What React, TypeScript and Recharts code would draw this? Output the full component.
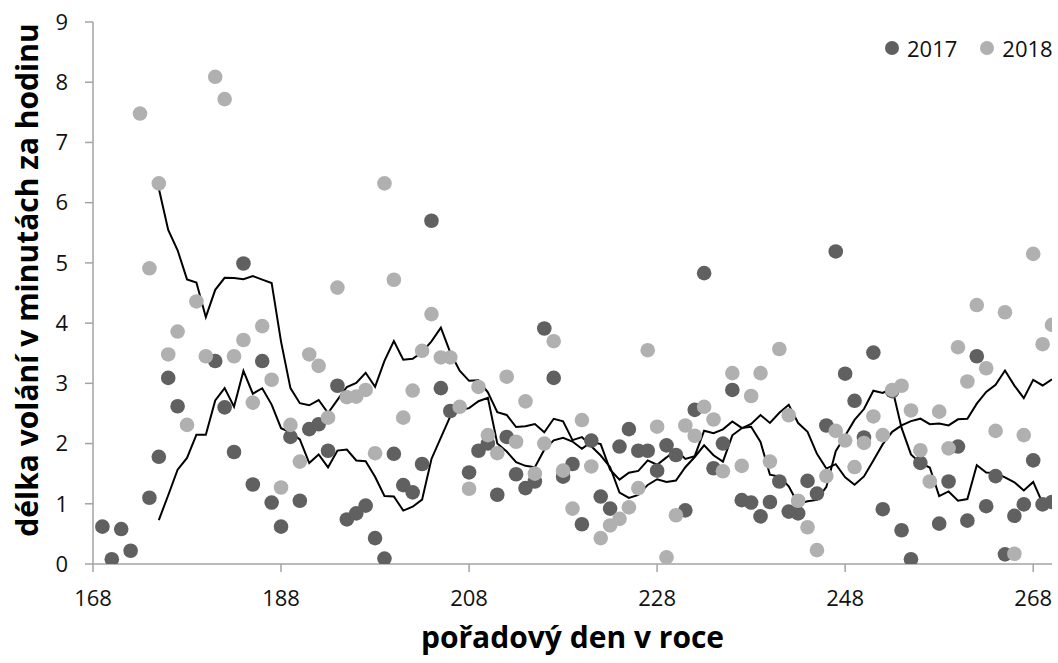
import React from 'react';
import { ComposedChart, Scatter, Line, XAxis, YAxis, Legend, Label } from 'recharts';

// First day of the data rows (day-of-year); one value per consecutive day, null = no value
const FIRST_DAY = 169;

// 2017 values (minutes of calls per hour), days 169..270
const values2017: (number | null)[] = [
  0.62, 0.08, 0.58, 0.22, null, 1.10, 1.78, 3.09, 2.62, null, // 169-178
  null, null, 3.37, 2.60, 1.86, 4.99, 1.32, 3.37, 1.02, 0.62, // 179-188
  2.11, 1.05, 2.24, 2.32, 1.88, 2.96, 0.74, 0.84, 0.97, 0.43, // 189-198
  0.09, 1.83, 1.31, 1.19, 1.66, 5.70, 2.92, 2.54, null, 1.52, // 199-208
  1.88, 2.00, 1.15, 2.11, 1.49, 1.26, 1.37, 3.91, 3.09, 1.45, // 209-218
  1.66, 0.66, 2.05, 1.12, 0.92, 1.95, 2.24, 1.88, 1.88, 1.55, // 219-228
  1.97, 1.81, 0.89, 2.56, 4.83, 1.59, 2.00, 2.89, 1.06, 1.02, // 229-238
  0.79, 1.03, 1.37, 0.87, 0.84, 1.38, 1.17, 2.30, 5.19, 3.16, // 239-248
  2.71, 2.10, 3.51, 0.91, 2.87, 0.56, 0.08, 1.68, null, 0.67, // 249-258
  1.37, 1.95, 0.72, 3.45, 0.96, 1.46, 0.16, 0.80, 0.99, 1.72, // 259-268
  0.99, 1.03, // 269-270
];

// 2018 values, days 169..270
const values2018: (number | null)[] = [
  null, null, null, null, 7.48, 4.91, 6.32, 3.48, 3.86, 2.31, // 169-178
  4.36, 3.45, 8.09, 7.72, 3.45, 3.72, 2.68, 3.95, 3.06, 1.27, // 179-188
  2.31, 1.70, 3.48, 3.29, 2.43, 4.59, 2.77, 2.78, 2.89, 1.84, // 189-198
  6.32, 4.72, 2.43, 2.88, 3.54, 4.15, 3.43, 3.43, 2.61, 1.25, // 199-208
  2.94, 2.14, 1.84, 3.11, 2.03, 2.70, 1.50, 2.00, 3.70, 1.55, // 209-218
  0.92, 2.39, 1.62, 0.43, 0.64, 0.75, 0.94, 1.26, 3.55, 2.28, // 219-228
  0.11, 0.81, 2.30, 2.13, 2.61, 2.40, 1.54, 3.17, 1.63, 2.79, // 229-238
  3.17, 1.70, 3.57, 2.47, 1.05, 0.61, 0.23, 1.46, 2.21, 2.05, // 239-248
  1.61, 2.01, 2.45, 2.14, 2.89, 2.96, 2.55, 1.89, 1.37, 2.53, // 249-258
  1.92, 3.60, 3.03, 4.30, 3.25, 2.21, 4.18, 0.17, 2.14, 5.15, // 259-268
  3.65, 3.97, // 269-270
];

const X_TICKS = [168, 188, 208, 228, 248, 268];
const Y_TICKS = [0, 1, 2, 3, 4, 5, 6, 7, 8, 9];
const SERIES_NAMES = ['2017', '2018'];
const X_TITLE = 'pořadový den v roce';
const Y_TITLE = 'délka volání v minutách za hodinu';
const TREND_PERIOD = 7; // moving-average trendline period (rows)

const COLOR_2017 = '#606060';
const COLOR_2018 = '#b0b0b0';
const AXIS_COLOR = '#a3a3a3';
const FONT = '"Open Sans", "DejaVu Sans", sans-serif';

type Pt = { day: number; v: number };

const toPoints = (vals: (number | null)[]): Pt[] =>
  vals
    .map((v, i) => (v == null ? null : { day: FIRST_DAY + i, v }))
    .filter((p): p is Pt => p !== null);

// Moving-average trendline (like the spreadsheet trendline): mean of the available values
// in the last TREND_PERIOD rows, starting at the TREND_PERIOD-th row.
const trendline = (vals: (number | null)[]): Pt[] => {
  const out: Pt[] = [];
  for (let i = TREND_PERIOD - 1; i < vals.length; i++) {
    const win = vals.slice(i - TREND_PERIOD + 1, i + 1).filter((x): x is number => x != null);
    if (win.length) out.push({ day: FIRST_DAY + i, v: win.reduce((a, b) => a + b, 0) / win.length });
  }
  return out;
};

const pts2017 = toPoints(values2017);
const pts2018 = toPoints(values2018);
const trend2017 = trendline(values2017);
const trend2018 = trendline(values2018);

const dot = (color: string) => (p: any) =>
  p.cx == null || p.cy == null ? <g /> : <circle cx={p.cx} cy={p.cy} r={7.3} fill={color} />;

const LegendContent = () => (
  <div
    style={{
      display: 'flex',
      alignItems: 'center',
      fontFamily: FONT,
      fontSize: 22,
      lineHeight: '30px',
      color: '#111',
      whiteSpace: 'nowrap',
    }}
  >
    <span style={{ width: 14, height: 14, borderRadius: 7, background: COLOR_2017, display: 'inline-block' }} />
    <span style={{ marginLeft: 8 }}>{SERIES_NAMES[0]}</span>
    <span
      style={{ width: 14, height: 14, borderRadius: 7, background: COLOR_2018, display: 'inline-block', marginLeft: 23 }}
    />
    <span style={{ marginLeft: 8 }}>{SERIES_NAMES[1]}</span>
  </div>
);

export default function App() {
  return (
    <div style={{ position: 'absolute', left: 0, top: 0, width: 1058, height: 663, background: '#fff' }}>
      <ComposedChart width={1058} height={663} margin={{ top: 22, right: 6, bottom: 0, left: 0 }}>
        <XAxis
          type="number"
          dataKey="day"
          domain={[168, 270]}
          ticks={X_TICKS}
          allowDataOverflow
          height={99}
          tickSize={8}
          tickMargin={18}
          axisLine={{ stroke: AXIS_COLOR, strokeWidth: 1.5 }}
          tickLine={{ stroke: AXIS_COLOR, strokeWidth: 1.5 }}
          tick={{ fill: '#111', fontSize: 22, fontFamily: FONT }}
        >
          <Label
            content={(props: any) => {
              const vb = props.viewBox || {};
              return (
                <text
                  x={vb.x + vb.width / 2}
                  y={vb.y + 84}
                  textAnchor="middle"
                  fontFamily={FONT}
                  fontWeight="bold"
                  fontSize={30}
                  fill="#000"
                >
                  {X_TITLE}
                </text>
              );
            }}
          />
        </XAxis>
        <YAxis
          type="number"
          dataKey="v"
          domain={[0, 9]}
          ticks={Y_TICKS}
          allowDataOverflow
          width={93}
          tickSize={8}
          tickMargin={17}
          axisLine={{ stroke: AXIS_COLOR, strokeWidth: 1.5 }}
          tickLine={{ stroke: AXIS_COLOR, strokeWidth: 1.5 }}
          tick={{ fill: '#111', fontSize: 22, fontFamily: FONT }}
        >
          <Label
            content={(props: any) => {
              const vb = props.viewBox || {};
              const cx = 38;
              const cy = vb.y + vb.height / 2 - 13;
              return (
                <text
                  x={cx}
                  y={cy}
                  transform={`rotate(-90, ${cx}, ${cy})`}
                  textAnchor="middle"
                  fontFamily={FONT}
                  fontWeight="bold"
                  fontSize={30}
                  fill="#000"
                >
                  {Y_TITLE}
                </text>
              );
            }}
          />
        </YAxis>
        <Legend
          layout="vertical"
          align="center"
          verticalAlign="middle"
          wrapperStyle={{ left: 885, top: 33, right: 'auto', bottom: 'auto', width: 180 }}
          content={LegendContent}
        />
        <Scatter name={SERIES_NAMES[0]} data={pts2017} dataKey="v" shape={dot(COLOR_2017)} isAnimationActive={false} />
        <Scatter name={SERIES_NAMES[1]} data={pts2018} dataKey="v" shape={dot(COLOR_2018)} isAnimationActive={false} />
        <Line
          data={trend2017}
          dataKey="v"
          type="linear"
          stroke="#000"
          strokeWidth={2}
          dot={false}
          activeDot={false}
          legendType="none"
          isAnimationActive={false}
        />
        <Line
          data={trend2018}
          dataKey="v"
          type="linear"
          stroke="#000"
          strokeWidth={2}
          dot={false}
          activeDot={false}
          legendType="none"
          isAnimationActive={false}
        />
      </ComposedChart>
    </div>
  );
}
